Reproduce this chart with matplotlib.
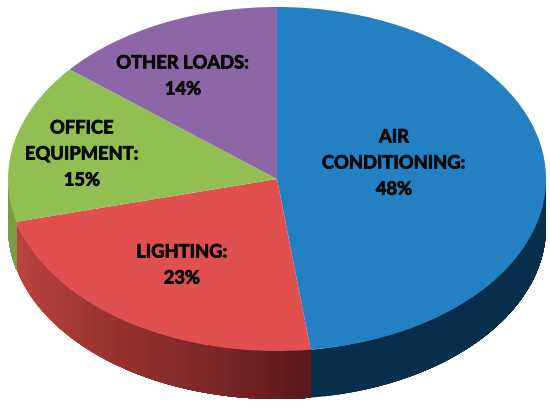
import numpy as np
import matplotlib
matplotlib.use("Agg")
import matplotlib.pyplot as plt
import matplotlib.patheffects as pe
from matplotlib.colors import LinearSegmentedColormap
from matplotlib.patches import Polygon

categories = ["AIR\nCONDITIONING:", "LIGHTING:", "OFFICE\nEQUIPMENT:", "OTHER LOADS:"]
shares = [48, 23, 15, 14]
top_colors = ["#2380c2", "#e0504e", "#92bf52", "#8d66a8"]
side_colors = [
    ["#072f4b", "#072f4b"],
    ["#bb4440", "#96322f", "#7c2727", "#5a1818"],
    ["#7a9f42", "#7a9f42"],
    ["#6d4e85", "#6d4e85"],
]
label_pixels = [(394, 164), (182, 266), (82, 155), (183, 77)]

# pie geometry in image pixels
cx, cy = 277, 180
rx, ry = 269, 172
depth = 48 / ry


def to_unit(px, py):
    return (px - cx) / rx, (cy - py) / ry


def side_wall(ax, start, end, colors, bands=28):
    # front part of the rim only, the back is hidden by the top face
    lo, hi = max(start, -180), min(end, 0)
    if lo >= hi:
        return
    cmap = LinearSegmentedColormap.from_list("wall", colors)
    edges = np.linspace(lo, hi, bands + 1)
    xs = np.cos(np.radians(edges))
    # going from the slice's right end to its left, each band runs on under the
    # later ones, so no background shows through the seams
    for a, b in zip(edges[:-1], edges[1:]):
        t = np.radians(np.linspace(a, hi, 60))
        upper = np.column_stack([np.cos(t), np.sin(t)])
        lower = upper[::-1] - [0, depth]
        mid = np.cos(np.radians((a + b) / 2))
        frac = (mid - xs.min()) / (xs.max() - xs.min())
        ax.add_patch(Polygon(np.vstack([upper, lower]), closed=True,
                             facecolor=cmap(frac), linewidth=0, zorder=1))


fig = plt.figure(figsize=(5.5, 4.1), dpi=100)
ax = fig.add_axes([0, 0, 1, 1])

angle = 90.0
for share, colors in zip(shares, side_colors):
    sweep = share / sum(shares) * 360
    side_wall(ax, angle - sweep, angle, colors)
    angle -= sweep

wedges, _ = ax.pie(shares, colors=top_colors, startangle=90, counterclock=False,
                   wedgeprops={"linewidth": 0})
for wedge in wedges:
    wedge.set_zorder(2)

for name, share, pos in zip(categories, shares, label_pixels):
    x, y = to_unit(*pos)
    label = ax.text(x, y, f"{name}\n{share}%", ha="center", va="center", fontsize=13.2,
                    fontweight="bold", family="Lato", color="#0a0a0a",
                    linespacing=1.65, zorder=3)
    label.set_path_effects([pe.withStroke(linewidth=0.6, foreground="#0a0a0a")])

ax.set_aspect("auto")
ax.set_xlim(-cx / rx, (550 - cx) / rx)
ax.set_ylim((cy - 410) / ry, cy / ry)
ax.axis("off")

fig.savefig("out.png", dpi=100)
